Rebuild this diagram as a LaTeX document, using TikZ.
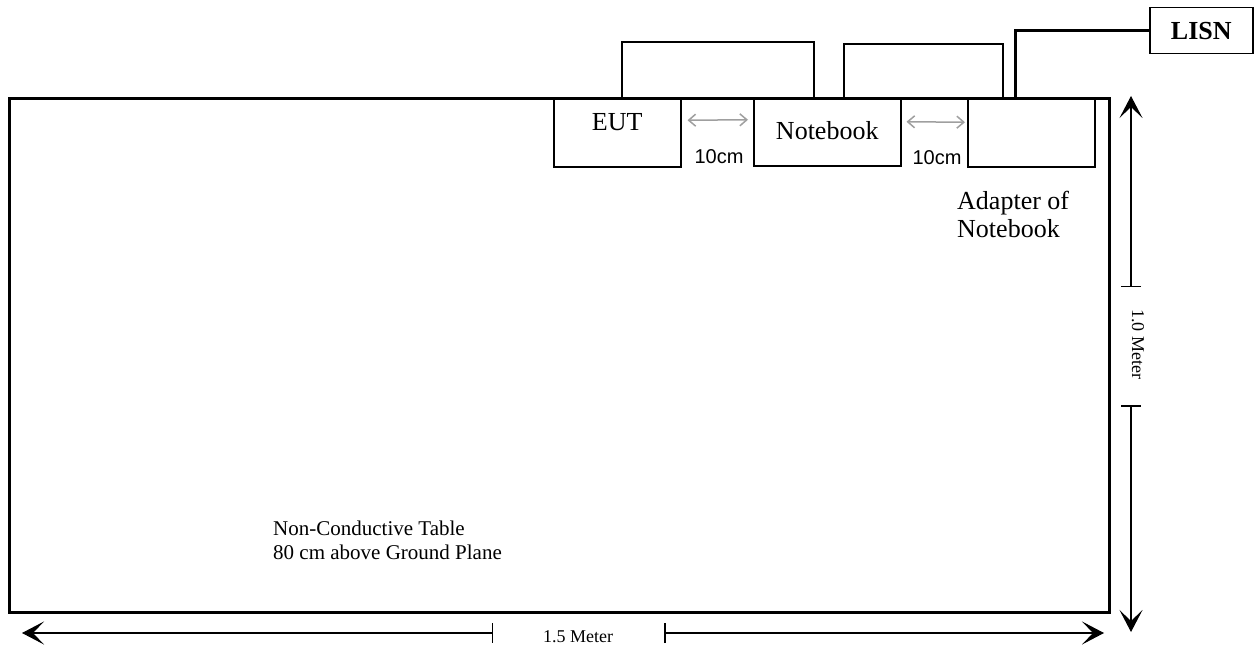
\documentclass[tikz,border=0pt]{standalone}
\usepackage{fontspec}
\setmainfont{Liberation Serif}
\newfontfamily\arialfont{Liberation Sans}
\usetikzlibrary{arrows.meta}
\begin{document}
\begin{tikzpicture}[x=1pt,y=-1pt,
  box/.style={draw,line width=1.5pt,inner sep=0pt,anchor=north west},
  tbl/.style={draw,line width=3pt,inner sep=0pt,anchor=north west},
  cable/.style={line width=1.5pt},
  thickcable/.style={line width=3pt},
  gap/.style={draw=gray!75,line width=1.5pt,{Straight Barb[length=7pt,width=12pt]}-{Straight Barb[length=7pt,width=12pt]}},
  dimline/.style={line width=1.5pt},
  barb/.tip={Stealth[length=22pt,width=23pt,inset=11pt,line width=1pt]},
  tick/.tip={Bar[width=20pt,line width=1.5pt]},
  big/.style={font=\fontsize{26}{28}\selectfont,align=left,inner sep=0pt},
  mid/.style={font=\fontsize{21}{24}\selectfont,align=left,inner sep=0pt},
  small/.style={font=\fontsize{18}{20}\selectfont,inner sep=0pt},
  sans/.style={font=\arialfont\fontsize{20}{22}\selectfont,inner sep=0pt}
]
\useasboundingbox (0,0) rectangle (1258,650);
% table
\node[tbl,minimum width=1100pt,minimum height=514pt] (table) at (8,97) {};
% devices
\node[box,minimum width=127pt,minimum height=69pt] (eut) at (553,97) {};
\node[box,minimum width=147pt,minimum height=68pt] (nb) at (753,97) {};
\node[box,minimum width=127pt,minimum height=69pt] (adp) at (967,97) {};
\node[box,minimum width=103pt,minimum height=46pt] (lisn) at (1149,7) {};
\node[big,font=\bfseries\fontsize{26}{28}\selectfont] (lisnt) at (lisn.center) {LISN};
\node[big] (eutt) at ([yshift=10pt]eut.center) {EUT};
\node[big] (nbt) at ([yshift=1pt]nb.center) {Notebook};
\node[big,anchor=west] (adpt) at (957,214) {Adapter of\\Notebook};
\node[mid,anchor=west] (tblt) at (273,540) {Non-Conductive Table\\80 cm above Ground Plane};
% cables
\draw[cable] ([xshift=4.5pt]eut.north) -- ++(0,-55) -| ([xshift=-13.5pt]nb.north);
\draw[cable] ([xshift=16.5pt]nb.north) -- ++(0,-53) -| ([xshift=-28.5pt]adp.north);
\draw[thickcable] ([xshift=-15.5pt]adp.north) |- (lisn.west);
% spacing arrows
\draw[gap] ([shift={(6pt,12pt)}]eut.east) -- ([shift={(-5pt,12pt)}]nb.west);
\draw[gap] ([shift={(5pt,10pt)}]nb.east) -- ([shift={(-2pt,10pt)}]adp.west);
\node[sans] (g1) at (719,157) {10cm};
\node[sans] (g2) at (937,158) {10cm};
% dimensions
\coordinate (hl) at (22,633);
\coordinate (hm1) at (493,633);
\coordinate (hm2) at (664,633);
\coordinate (hr) at (1104,633);
\draw[dimline,{tick}-{barb}] (hm1) -- (hl);
\draw[dimline,{tick}-{barb}] (hm2) -- (hr);
\node[small] (hlab) at (578,637) {1.5 Meter};
\coordinate (vt) at (1131,96);
\coordinate (vm1) at (1131,287);
\coordinate (vm2) at (1131,405);
\coordinate (vb) at (1131,632);
\draw[dimline,{tick}-{barb}] (vm1) -- (vt);
\draw[dimline,{tick}-{barb}] (vm2) -- (vb);
\node[small,rotate=-90] (vlab) at (1138,344) {1.0 Meter};
\end{tikzpicture}
\end{document}
